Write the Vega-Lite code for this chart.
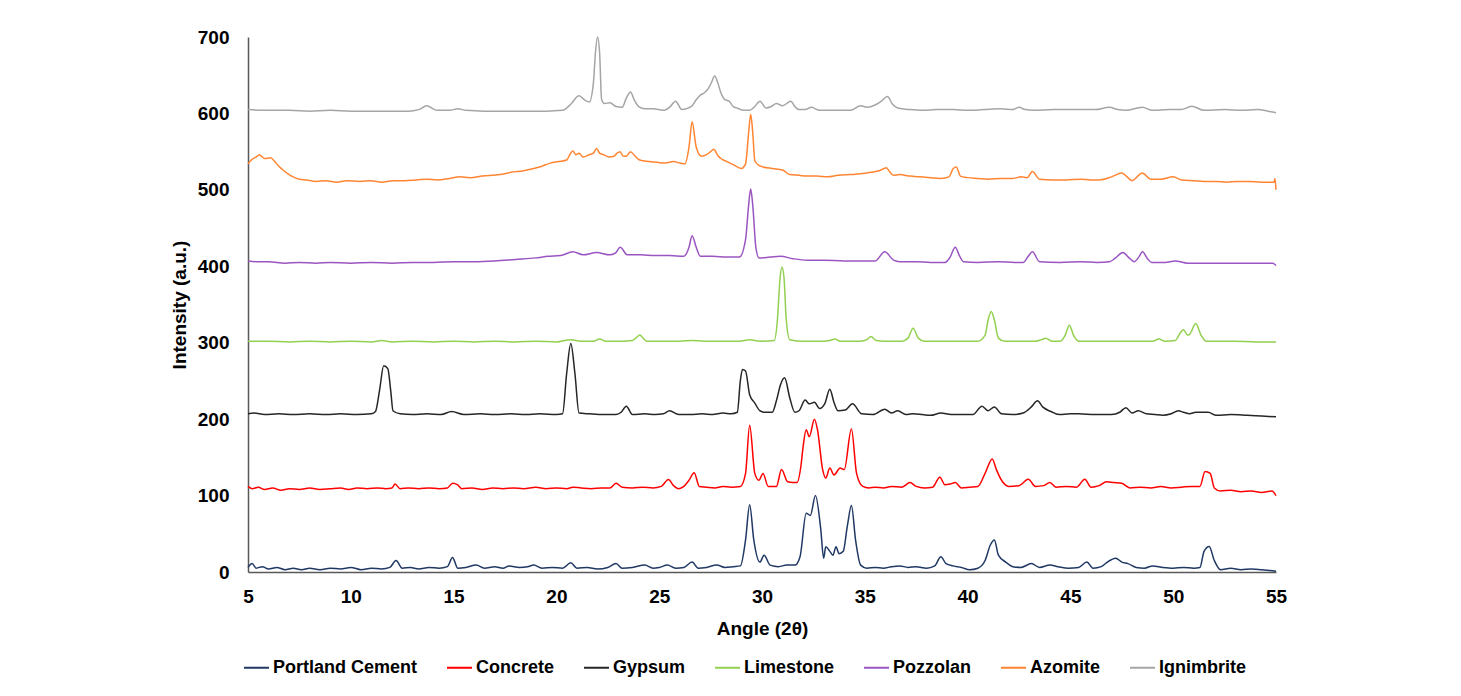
{
  "$schema": "https://vega.github.io/schema/vega-lite/v6.json",
  "autosize": {"type": "none"},
  "width": 1028,
  "height": 535,
  "padding": {"left": 248, "top": 37, "right": 185, "bottom": 124},
  "background": "white",
  "config": {
    "view": {"stroke": null},
    "font": "Liberation Sans",
    "axis": {"labelFont": "Liberation Sans", "titleFont": "Liberation Sans", "labelFontWeight": "bold", "titleFontWeight": "bold", "labelFontSize": 19, "titleFontSize": 19, "labelColor": "#000000", "titleColor": "#000000", "grid": false, "ticks": false, "tickSize": 0, "domainColor": "#595959", "domainWidth": 1.5}
  },
  "data": {"values": [
    {"s":"Portland Cement","x":5.0,"y":6},{"s":"Portland Cement","x":5.2,"y":11},{"s":"Portland Cement","x":5.4,"y":5},{"s":"Portland Cement","x":5.7,"y":7},{"s":"Portland Cement","x":6.0,"y":4},{"s":"Portland Cement","x":6.4,"y":6},{"s":"Portland Cement","x":6.8,"y":3},{"s":"Portland Cement","x":7.2,"y":5},{"s":"Portland Cement","x":7.6,"y":3},{"s":"Portland Cement","x":8.0,"y":5},{"s":"Portland Cement","x":8.5,"y":3},{"s":"Portland Cement","x":9.0,"y":5},{"s":"Portland Cement","x":9.5,"y":4},{"s":"Portland Cement","x":10.0,"y":6},{"s":"Portland Cement","x":10.5,"y":3},{"s":"Portland Cement","x":11.0,"y":5},{"s":"Portland Cement","x":11.5,"y":4},{"s":"Portland Cement","x":11.9,"y":6},{"s":"Portland Cement","x":12.2,"y":15},{"s":"Portland Cement","x":12.5,"y":5},{"s":"Portland Cement","x":12.9,"y":6},{"s":"Portland Cement","x":13.3,"y":4},{"s":"Portland Cement","x":13.8,"y":6},{"s":"Portland Cement","x":14.3,"y":5},{"s":"Portland Cement","x":14.7,"y":7},{"s":"Portland Cement","x":14.95,"y":19},{"s":"Portland Cement","x":15.2,"y":5},{"s":"Portland Cement","x":15.6,"y":6},{"s":"Portland Cement","x":16.1,"y":9},{"s":"Portland Cement","x":16.5,"y":5},{"s":"Portland Cement","x":17.0,"y":7},{"s":"Portland Cement","x":17.4,"y":5},{"s":"Portland Cement","x":17.7,"y":8},{"s":"Portland Cement","x":18.2,"y":6},{"s":"Portland Cement","x":18.6,"y":7},{"s":"Portland Cement","x":18.9,"y":9},{"s":"Portland Cement","x":19.3,"y":5},{"s":"Portland Cement","x":19.8,"y":6},{"s":"Portland Cement","x":20.3,"y":5},{"s":"Portland Cement","x":20.7,"y":12},{"s":"Portland Cement","x":21.0,"y":5},{"s":"Portland Cement","x":21.5,"y":6},{"s":"Portland Cement","x":22.0,"y":4},{"s":"Portland Cement","x":22.5,"y":6},{"s":"Portland Cement","x":22.9,"y":11},{"s":"Portland Cement","x":23.2,"y":5},{"s":"Portland Cement","x":23.7,"y":6},{"s":"Portland Cement","x":24.3,"y":9},{"s":"Portland Cement","x":24.7,"y":5},{"s":"Portland Cement","x":25.0,"y":6},{"s":"Portland Cement","x":25.4,"y":9},{"s":"Portland Cement","x":25.8,"y":5},{"s":"Portland Cement","x":26.2,"y":6},{"s":"Portland Cement","x":26.6,"y":13},{"s":"Portland Cement","x":26.9,"y":5},{"s":"Portland Cement","x":27.3,"y":6},{"s":"Portland Cement","x":27.8,"y":9},{"s":"Portland Cement","x":28.2,"y":6},{"s":"Portland Cement","x":28.6,"y":7},{"s":"Portland Cement","x":28.95,"y":8},{"s":"Portland Cement","x":29.2,"y":42},{"s":"Portland Cement","x":29.4,"y":88},{"s":"Portland Cement","x":29.6,"y":42},{"s":"Portland Cement","x":29.9,"y":13},{"s":"Portland Cement","x":30.1,"y":22},{"s":"Portland Cement","x":30.4,"y":9},{"s":"Portland Cement","x":30.8,"y":7},{"s":"Portland Cement","x":31.2,"y":9},{"s":"Portland Cement","x":31.6,"y":9},{"s":"Portland Cement","x":31.85,"y":20},{"s":"Portland Cement","x":32.15,"y":77},{"s":"Portland Cement","x":32.35,"y":74},{"s":"Portland Cement","x":32.6,"y":100},{"s":"Portland Cement","x":32.85,"y":58},{"s":"Portland Cement","x":33.0,"y":18},{"s":"Portland Cement","x":33.1,"y":33},{"s":"Portland Cement","x":33.3,"y":27},{"s":"Portland Cement","x":33.45,"y":22},{"s":"Portland Cement","x":33.6,"y":33},{"s":"Portland Cement","x":33.75,"y":24},{"s":"Portland Cement","x":33.95,"y":27},{"s":"Portland Cement","x":34.15,"y":60},{"s":"Portland Cement","x":34.35,"y":87},{"s":"Portland Cement","x":34.55,"y":42},{"s":"Portland Cement","x":34.8,"y":9},{"s":"Portland Cement","x":35.1,"y":5},{"s":"Portland Cement","x":35.5,"y":6},{"s":"Portland Cement","x":35.9,"y":5},{"s":"Portland Cement","x":36.3,"y":7},{"s":"Portland Cement","x":36.7,"y":8},{"s":"Portland Cement","x":37.1,"y":6},{"s":"Portland Cement","x":37.5,"y":7},{"s":"Portland Cement","x":38.0,"y":5},{"s":"Portland Cement","x":38.4,"y":8},{"s":"Portland Cement","x":38.7,"y":20},{"s":"Portland Cement","x":38.95,"y":11},{"s":"Portland Cement","x":39.3,"y":8},{"s":"Portland Cement","x":39.7,"y":6},{"s":"Portland Cement","x":40.1,"y":3},{"s":"Portland Cement","x":40.5,"y":5},{"s":"Portland Cement","x":40.85,"y":15},{"s":"Portland Cement","x":41.1,"y":35},{"s":"Portland Cement","x":41.3,"y":42},{"s":"Portland Cement","x":41.5,"y":22},{"s":"Portland Cement","x":41.85,"y":13},{"s":"Portland Cement","x":42.2,"y":7},{"s":"Portland Cement","x":42.6,"y":6},{"s":"Portland Cement","x":43.1,"y":11},{"s":"Portland Cement","x":43.5,"y":6},{"s":"Portland Cement","x":44.0,"y":9},{"s":"Portland Cement","x":44.4,"y":7},{"s":"Portland Cement","x":44.9,"y":5},{"s":"Portland Cement","x":45.4,"y":6},{"s":"Portland Cement","x":45.8,"y":13},{"s":"Portland Cement","x":46.1,"y":5},{"s":"Portland Cement","x":46.5,"y":7},{"s":"Portland Cement","x":46.75,"y":12},{"s":"Portland Cement","x":47.2,"y":18},{"s":"Portland Cement","x":47.5,"y":13},{"s":"Portland Cement","x":47.8,"y":11},{"s":"Portland Cement","x":48.2,"y":6},{"s":"Portland Cement","x":48.6,"y":5},{"s":"Portland Cement","x":49.0,"y":8},{"s":"Portland Cement","x":49.5,"y":6},{"s":"Portland Cement","x":50.0,"y":5},{"s":"Portland Cement","x":50.5,"y":6},{"s":"Portland Cement","x":51.0,"y":5},{"s":"Portland Cement","x":51.3,"y":6},{"s":"Portland Cement","x":51.5,"y":27},{"s":"Portland Cement","x":51.75,"y":33.5},{"s":"Portland Cement","x":52.0,"y":15},{"s":"Portland Cement","x":52.3,"y":3},{"s":"Portland Cement","x":52.8,"y":5},{"s":"Portland Cement","x":53.3,"y":3},{"s":"Portland Cement","x":53.8,"y":4},{"s":"Portland Cement","x":54.3,"y":3},{"s":"Portland Cement","x":54.7,"y":2},{"s":"Portland Cement","x":55.0,"y":1},

    {"s":"Concrete","x":5.0,"y":112},{"s":"Concrete","x":5.2,"y":109},{"s":"Concrete","x":5.5,"y":111},{"s":"Concrete","x":5.8,"y":108},{"s":"Concrete","x":6.2,"y":110},{"s":"Concrete","x":6.6,"y":107},{"s":"Concrete","x":7.0,"y":109},{"s":"Concrete","x":7.5,"y":108},{"s":"Concrete","x":8.0,"y":110},{"s":"Concrete","x":8.5,"y":108},{"s":"Concrete","x":9.0,"y":109},{"s":"Concrete","x":9.5,"y":110},{"s":"Concrete","x":9.9,"y":108},{"s":"Concrete","x":10.3,"y":110},{"s":"Concrete","x":10.8,"y":109},{"s":"Concrete","x":11.3,"y":110},{"s":"Concrete","x":11.7,"y":109},{"s":"Concrete","x":12.0,"y":110},{"s":"Concrete","x":12.15,"y":115},{"s":"Concrete","x":12.4,"y":109},{"s":"Concrete","x":12.8,"y":110},{"s":"Concrete","x":13.3,"y":109},{"s":"Concrete","x":13.8,"y":110},{"s":"Concrete","x":14.3,"y":109},{"s":"Concrete","x":14.7,"y":110},{"s":"Concrete","x":14.95,"y":116},{"s":"Concrete","x":15.2,"y":114},{"s":"Concrete","x":15.4,"y":109},{"s":"Concrete","x":15.9,"y":110},{"s":"Concrete","x":16.4,"y":108},{"s":"Concrete","x":16.9,"y":110},{"s":"Concrete","x":17.4,"y":109},{"s":"Concrete","x":17.9,"y":110},{"s":"Concrete","x":18.4,"y":109},{"s":"Concrete","x":19.0,"y":111},{"s":"Concrete","x":19.5,"y":109},{"s":"Concrete","x":20.0,"y":110},{"s":"Concrete","x":20.5,"y":109},{"s":"Concrete","x":20.8,"y":111},{"s":"Concrete","x":21.2,"y":110},{"s":"Concrete","x":21.7,"y":109},{"s":"Concrete","x":22.2,"y":110},{"s":"Concrete","x":22.6,"y":110},{"s":"Concrete","x":22.9,"y":116},{"s":"Concrete","x":23.2,"y":111},{"s":"Concrete","x":23.7,"y":110},{"s":"Concrete","x":24.2,"y":111},{"s":"Concrete","x":24.7,"y":110},{"s":"Concrete","x":25.1,"y":112},{"s":"Concrete","x":25.45,"y":121},{"s":"Concrete","x":25.7,"y":113},{"s":"Concrete","x":25.95,"y":109},{"s":"Concrete","x":26.2,"y":112},{"s":"Concrete","x":26.45,"y":120},{"s":"Concrete","x":26.7,"y":130},{"s":"Concrete","x":26.95,"y":112},{"s":"Concrete","x":27.3,"y":111},{"s":"Concrete","x":27.7,"y":110},{"s":"Concrete","x":28.1,"y":112},{"s":"Concrete","x":28.5,"y":111},{"s":"Concrete","x":28.95,"y":112},{"s":"Concrete","x":29.2,"y":129},{"s":"Concrete","x":29.4,"y":192},{"s":"Concrete","x":29.65,"y":129},{"s":"Concrete","x":29.85,"y":120},{"s":"Concrete","x":30.05,"y":129},{"s":"Concrete","x":30.3,"y":112},{"s":"Concrete","x":30.7,"y":112},{"s":"Concrete","x":30.95,"y":134},{"s":"Concrete","x":31.25,"y":118},{"s":"Concrete","x":31.5,"y":117},{"s":"Concrete","x":31.7,"y":117},{"s":"Concrete","x":31.9,"y":140},{"s":"Concrete","x":32.0,"y":164},{"s":"Concrete","x":32.15,"y":186},{"s":"Concrete","x":32.3,"y":177},{"s":"Concrete","x":32.55,"y":200},{"s":"Concrete","x":32.7,"y":186},{"s":"Concrete","x":32.95,"y":134},{"s":"Concrete","x":33.1,"y":123},{"s":"Concrete","x":33.3,"y":136},{"s":"Concrete","x":33.5,"y":127},{"s":"Concrete","x":33.8,"y":136},{"s":"Concrete","x":34.0,"y":134},{"s":"Concrete","x":34.35,"y":187},{"s":"Concrete","x":34.6,"y":129},{"s":"Concrete","x":34.9,"y":112},{"s":"Concrete","x":35.2,"y":110},{"s":"Concrete","x":35.5,"y":111},{"s":"Concrete","x":35.9,"y":110},{"s":"Concrete","x":36.3,"y":112},{"s":"Concrete","x":36.8,"y":111},{"s":"Concrete","x":37.2,"y":117},{"s":"Concrete","x":37.5,"y":112},{"s":"Concrete","x":37.9,"y":110},{"s":"Concrete","x":38.3,"y":111},{"s":"Concrete","x":38.65,"y":124},{"s":"Concrete","x":38.9,"y":114},{"s":"Concrete","x":39.15,"y":115},{"s":"Concrete","x":39.4,"y":117},{"s":"Concrete","x":39.7,"y":110},{"s":"Concrete","x":40.1,"y":111},{"s":"Concrete","x":40.5,"y":112},{"s":"Concrete","x":40.85,"y":129},{"s":"Concrete","x":41.2,"y":148},{"s":"Concrete","x":41.4,"y":134},{"s":"Concrete","x":41.7,"y":118},{"s":"Concrete","x":42.0,"y":112},{"s":"Concrete","x":42.5,"y":113},{"s":"Concrete","x":42.95,"y":121.5},{"s":"Concrete","x":43.3,"y":112},{"s":"Concrete","x":43.7,"y":113},{"s":"Concrete","x":44.0,"y":117},{"s":"Concrete","x":44.3,"y":111},{"s":"Concrete","x":44.8,"y":112},{"s":"Concrete","x":45.3,"y":111},{"s":"Concrete","x":45.7,"y":121.5},{"s":"Concrete","x":46.0,"y":111},{"s":"Concrete","x":46.4,"y":113},{"s":"Concrete","x":46.75,"y":118},{"s":"Concrete","x":47.1,"y":117},{"s":"Concrete","x":47.5,"y":116},{"s":"Concrete","x":47.9,"y":110},{"s":"Concrete","x":48.4,"y":111},{"s":"Concrete","x":48.9,"y":110},{"s":"Concrete","x":49.4,"y":112},{"s":"Concrete","x":49.9,"y":110},{"s":"Concrete","x":50.4,"y":111},{"s":"Concrete","x":50.9,"y":112},{"s":"Concrete","x":51.3,"y":112},{"s":"Concrete","x":51.55,"y":131.5},{"s":"Concrete","x":51.8,"y":129},{"s":"Concrete","x":52.0,"y":110},{"s":"Concrete","x":52.3,"y":106},{"s":"Concrete","x":52.8,"y":107},{"s":"Concrete","x":53.3,"y":105},{"s":"Concrete","x":53.8,"y":106},{"s":"Concrete","x":54.3,"y":104},{"s":"Concrete","x":54.8,"y":106},{"s":"Concrete","x":55.0,"y":100},

    {"s":"Gypsum","x":5.0,"y":207},{"s":"Gypsum","x":5.3,"y":208},{"s":"Gypsum","x":5.8,"y":206},{"s":"Gypsum","x":6.5,"y":207},{"s":"Gypsum","x":7.2,"y":206},{"s":"Gypsum","x":8.0,"y":207},{"s":"Gypsum","x":8.8,"y":206},{"s":"Gypsum","x":9.5,"y":207},{"s":"Gypsum","x":10.3,"y":206},{"s":"Gypsum","x":11.0,"y":207},{"s":"Gypsum","x":11.2,"y":210},{"s":"Gypsum","x":11.4,"y":238},{"s":"Gypsum","x":11.6,"y":270},{"s":"Gypsum","x":11.8,"y":266},{"s":"Gypsum","x":11.95,"y":235},{"s":"Gypsum","x":12.05,"y":211},{"s":"Gypsum","x":12.4,"y":207},{"s":"Gypsum","x":13.0,"y":206},{"s":"Gypsum","x":13.7,"y":207},{"s":"Gypsum","x":14.4,"y":206},{"s":"Gypsum","x":14.9,"y":210},{"s":"Gypsum","x":15.5,"y":206},{"s":"Gypsum","x":16.3,"y":207},{"s":"Gypsum","x":17.0,"y":206},{"s":"Gypsum","x":17.8,"y":207},{"s":"Gypsum","x":18.5,"y":206},{"s":"Gypsum","x":19.2,"y":207},{"s":"Gypsum","x":20.0,"y":206},{"s":"Gypsum","x":20.3,"y":207},{"s":"Gypsum","x":20.5,"y":260},{"s":"Gypsum","x":20.7,"y":299},{"s":"Gypsum","x":20.9,"y":260},{"s":"Gypsum","x":21.1,"y":208},{"s":"Gypsum","x":21.6,"y":207},{"s":"Gypsum","x":22.3,"y":206},{"s":"Gypsum","x":22.9,"y":206},{"s":"Gypsum","x":23.15,"y":209},{"s":"Gypsum","x":23.4,"y":217},{"s":"Gypsum","x":23.7,"y":206},{"s":"Gypsum","x":24.3,"y":207},{"s":"Gypsum","x":24.8,"y":206},{"s":"Gypsum","x":25.2,"y":207},{"s":"Gypsum","x":25.5,"y":211},{"s":"Gypsum","x":25.95,"y":206},{"s":"Gypsum","x":26.5,"y":206},{"s":"Gypsum","x":27.1,"y":207},{"s":"Gypsum","x":27.6,"y":206},{"s":"Gypsum","x":28.1,"y":208},{"s":"Gypsum","x":28.5,"y":207},{"s":"Gypsum","x":28.8,"y":209},{"s":"Gypsum","x":28.95,"y":251},{"s":"Gypsum","x":29.05,"y":265},{"s":"Gypsum","x":29.2,"y":263},{"s":"Gypsum","x":29.4,"y":232},{"s":"Gypsum","x":29.65,"y":221},{"s":"Gypsum","x":29.9,"y":211},{"s":"Gypsum","x":30.15,"y":209},{"s":"Gypsum","x":30.5,"y":209},{"s":"Gypsum","x":30.7,"y":224},{"s":"Gypsum","x":30.9,"y":245},{"s":"Gypsum","x":31.1,"y":254},{"s":"Gypsum","x":31.35,"y":228},{"s":"Gypsum","x":31.6,"y":209},{"s":"Gypsum","x":31.8,"y":211},{"s":"Gypsum","x":32.1,"y":225},{"s":"Gypsum","x":32.3,"y":220},{"s":"Gypsum","x":32.55,"y":222},{"s":"Gypsum","x":32.8,"y":214},{"s":"Gypsum","x":33.05,"y":220},{"s":"Gypsum","x":33.3,"y":239},{"s":"Gypsum","x":33.5,"y":222},{"s":"Gypsum","x":33.7,"y":211},{"s":"Gypsum","x":34.05,"y":212},{"s":"Gypsum","x":34.4,"y":220},{"s":"Gypsum","x":34.85,"y":207},{"s":"Gypsum","x":35.4,"y":206},{"s":"Gypsum","x":35.97,"y":213},{"s":"Gypsum","x":36.3,"y":208},{"s":"Gypsum","x":36.6,"y":211},{"s":"Gypsum","x":37.0,"y":206},{"s":"Gypsum","x":37.3,"y":207},{"s":"Gypsum","x":37.8,"y":206},{"s":"Gypsum","x":38.2,"y":205},{"s":"Gypsum","x":38.7,"y":208},{"s":"Gypsum","x":39.2,"y":206},{"s":"Gypsum","x":39.6,"y":206},{"s":"Gypsum","x":40.25,"y":206},{"s":"Gypsum","x":40.7,"y":217},{"s":"Gypsum","x":41.0,"y":211},{"s":"Gypsum","x":41.3,"y":216},{"s":"Gypsum","x":41.65,"y":207},{"s":"Gypsum","x":42.2,"y":206},{"s":"Gypsum","x":42.7,"y":208},{"s":"Gypsum","x":43.1,"y":216},{"s":"Gypsum","x":43.4,"y":224},{"s":"Gypsum","x":43.65,"y":216},{"s":"Gypsum","x":44.05,"y":210},{"s":"Gypsum","x":44.45,"y":206},{"s":"Gypsum","x":45.0,"y":207},{"s":"Gypsum","x":45.4,"y":207},{"s":"Gypsum","x":46.2,"y":206},{"s":"Gypsum","x":47.0,"y":206},{"s":"Gypsum","x":47.4,"y":209},{"s":"Gypsum","x":47.7,"y":215},{"s":"Gypsum","x":48.0,"y":208},{"s":"Gypsum","x":48.3,"y":211},{"s":"Gypsum","x":48.7,"y":207},{"s":"Gypsum","x":49.1,"y":206},{"s":"Gypsum","x":49.5,"y":205},{"s":"Gypsum","x":49.9,"y":207},{"s":"Gypsum","x":50.25,"y":211},{"s":"Gypsum","x":50.5,"y":209},{"s":"Gypsum","x":50.8,"y":207},{"s":"Gypsum","x":51.1,"y":209},{"s":"Gypsum","x":51.3,"y":209},{"s":"Gypsum","x":51.7,"y":209},{"s":"Gypsum","x":52.1,"y":205},{"s":"Gypsum","x":52.8,"y":206},{"s":"Gypsum","x":53.6,"y":205},{"s":"Gypsum","x":54.3,"y":204},{"s":"Gypsum","x":55.0,"y":203},

    {"s":"Limestone","x":5.0,"y":302},{"s":"Limestone","x":6.0,"y":302},{"s":"Limestone","x":7.0,"y":301},{"s":"Limestone","x":8.0,"y":302},{"s":"Limestone","x":9.0,"y":301},{"s":"Limestone","x":10.0,"y":302},{"s":"Limestone","x":11.0,"y":301},{"s":"Limestone","x":11.5,"y":303},{"s":"Limestone","x":12.0,"y":301},{"s":"Limestone","x":13.0,"y":302},{"s":"Limestone","x":14.0,"y":301},{"s":"Limestone","x":15.0,"y":302},{"s":"Limestone","x":16.0,"y":301},{"s":"Limestone","x":17.0,"y":302},{"s":"Limestone","x":18.0,"y":301},{"s":"Limestone","x":19.0,"y":302},{"s":"Limestone","x":20.0,"y":301},{"s":"Limestone","x":20.7,"y":304},{"s":"Limestone","x":21.2,"y":302},{"s":"Limestone","x":21.8,"y":302},{"s":"Limestone","x":22.1,"y":305},{"s":"Limestone","x":22.4,"y":302},{"s":"Limestone","x":23.2,"y":302},{"s":"Limestone","x":23.7,"y":303},{"s":"Limestone","x":23.9,"y":307},{"s":"Limestone","x":24.05,"y":310},{"s":"Limestone","x":24.25,"y":305},{"s":"Limestone","x":24.4,"y":302},{"s":"Limestone","x":25.0,"y":302},{"s":"Limestone","x":26.0,"y":302},{"s":"Limestone","x":26.6,"y":303},{"s":"Limestone","x":27.2,"y":302},{"s":"Limestone","x":28.0,"y":302},{"s":"Limestone","x":28.9,"y":302},{"s":"Limestone","x":29.4,"y":304},{"s":"Limestone","x":29.9,"y":302},{"s":"Limestone","x":30.6,"y":303},{"s":"Limestone","x":30.75,"y":330},{"s":"Limestone","x":30.88,"y":385},{"s":"Limestone","x":30.97,"y":399},{"s":"Limestone","x":31.07,"y":385},{"s":"Limestone","x":31.18,"y":330},{"s":"Limestone","x":31.35,"y":304},{"s":"Limestone","x":32.0,"y":302},{"s":"Limestone","x":33.0,"y":302},{"s":"Limestone","x":33.3,"y":303},{"s":"Limestone","x":33.55,"y":305},{"s":"Limestone","x":33.8,"y":302},{"s":"Limestone","x":34.8,"y":302},{"s":"Limestone","x":35.1,"y":304},{"s":"Limestone","x":35.3,"y":308},{"s":"Limestone","x":35.55,"y":303},{"s":"Limestone","x":36.0,"y":302},{"s":"Limestone","x":36.8,"y":302},{"s":"Limestone","x":37.1,"y":306},{"s":"Limestone","x":37.35,"y":319},{"s":"Limestone","x":37.6,"y":306},{"s":"Limestone","x":37.9,"y":302},{"s":"Limestone","x":38.5,"y":302},{"s":"Limestone","x":39.5,"y":302},{"s":"Limestone","x":40.5,"y":302},{"s":"Limestone","x":40.85,"y":310},{"s":"Limestone","x":41.0,"y":330},{"s":"Limestone","x":41.15,"y":341},{"s":"Limestone","x":41.3,"y":330},{"s":"Limestone","x":41.5,"y":306},{"s":"Limestone","x":41.8,"y":302},{"s":"Limestone","x":42.5,"y":302},{"s":"Limestone","x":43.3,"y":302},{"s":"Limestone","x":43.6,"y":304},{"s":"Limestone","x":43.8,"y":306},{"s":"Limestone","x":44.1,"y":302},{"s":"Limestone","x":44.5,"y":302},{"s":"Limestone","x":44.75,"y":310},{"s":"Limestone","x":44.95,"y":323},{"s":"Limestone","x":45.15,"y":310},{"s":"Limestone","x":45.4,"y":302},{"s":"Limestone","x":46.0,"y":302},{"s":"Limestone","x":47.0,"y":302},{"s":"Limestone","x":48.0,"y":302},{"s":"Limestone","x":49.0,"y":302},{"s":"Limestone","x":49.3,"y":305},{"s":"Limestone","x":49.6,"y":302},{"s":"Limestone","x":50.1,"y":303},{"s":"Limestone","x":50.35,"y":313},{"s":"Limestone","x":50.5,"y":317},{"s":"Limestone","x":50.7,"y":310},{"s":"Limestone","x":50.8,"y":311},{"s":"Limestone","x":51.1,"y":325},{"s":"Limestone","x":51.35,"y":310},{"s":"Limestone","x":51.6,"y":302},{"s":"Limestone","x":52.0,"y":302},{"s":"Limestone","x":53.0,"y":302},{"s":"Limestone","x":54.0,"y":301},{"s":"Limestone","x":55.0,"y":301},

    {"s":"Pozzolan","x":5.0,"y":407},{"s":"Pozzolan","x":5.5,"y":406},{"s":"Pozzolan","x":6.0,"y":406},{"s":"Pozzolan","x":6.8,"y":404},{"s":"Pozzolan","x":7.5,"y":405},{"s":"Pozzolan","x":8.3,"y":404},{"s":"Pozzolan","x":9.0,"y":405},{"s":"Pozzolan","x":10.0,"y":404},{"s":"Pozzolan","x":11.0,"y":405},{"s":"Pozzolan","x":12.0,"y":404},{"s":"Pozzolan","x":13.0,"y":405},{"s":"Pozzolan","x":14.0,"y":405},{"s":"Pozzolan","x":15.0,"y":406},{"s":"Pozzolan","x":16.0,"y":406},{"s":"Pozzolan","x":17.0,"y":407},{"s":"Pozzolan","x":18.0,"y":409},{"s":"Pozzolan","x":19.0,"y":411},{"s":"Pozzolan","x":19.6,"y":413},{"s":"Pozzolan","x":20.2,"y":414},{"s":"Pozzolan","x":20.8,"y":419},{"s":"Pozzolan","x":21.3,"y":415},{"s":"Pozzolan","x":21.95,"y":418},{"s":"Pozzolan","x":22.6,"y":415},{"s":"Pozzolan","x":22.9,"y":418},{"s":"Pozzolan","x":23.1,"y":425},{"s":"Pozzolan","x":23.45,"y":415},{"s":"Pozzolan","x":24.1,"y":415},{"s":"Pozzolan","x":24.8,"y":414},{"s":"Pozzolan","x":25.5,"y":414},{"s":"Pozzolan","x":26.2,"y":413},{"s":"Pozzolan","x":26.45,"y":425},{"s":"Pozzolan","x":26.6,"y":440},{"s":"Pozzolan","x":26.8,"y":425},{"s":"Pozzolan","x":27.0,"y":413},{"s":"Pozzolan","x":27.6,"y":413},{"s":"Pozzolan","x":28.3,"y":412},{"s":"Pozzolan","x":28.9,"y":412},{"s":"Pozzolan","x":29.2,"y":435},{"s":"Pozzolan","x":29.35,"y":480},{"s":"Pozzolan","x":29.45,"y":501},{"s":"Pozzolan","x":29.55,"y":480},{"s":"Pozzolan","x":29.7,"y":425},{"s":"Pozzolan","x":29.85,"y":411},{"s":"Pozzolan","x":30.4,"y":412},{"s":"Pozzolan","x":30.9,"y":413},{"s":"Pozzolan","x":31.5,"y":410},{"s":"Pozzolan","x":32.2,"y":408},{"s":"Pozzolan","x":33.0,"y":408},{"s":"Pozzolan","x":34.0,"y":407},{"s":"Pozzolan","x":35.0,"y":407},{"s":"Pozzolan","x":35.5,"y":407},{"s":"Pozzolan","x":35.97,"y":419},{"s":"Pozzolan","x":36.4,"y":408},{"s":"Pozzolan","x":36.7,"y":406},{"s":"Pozzolan","x":37.5,"y":406},{"s":"Pozzolan","x":38.2,"y":405},{"s":"Pozzolan","x":38.9,"y":405},{"s":"Pozzolan","x":39.15,"y":412},{"s":"Pozzolan","x":39.4,"y":425},{"s":"Pozzolan","x":39.6,"y":414},{"s":"Pozzolan","x":39.8,"y":406},{"s":"Pozzolan","x":40.5,"y":405},{"s":"Pozzolan","x":41.5,"y":406},{"s":"Pozzolan","x":42.3,"y":405},{"s":"Pozzolan","x":42.7,"y":405},{"s":"Pozzolan","x":42.95,"y":413},{"s":"Pozzolan","x":43.15,"y":419},{"s":"Pozzolan","x":43.5,"y":406},{"s":"Pozzolan","x":44.5,"y":405},{"s":"Pozzolan","x":45.5,"y":406},{"s":"Pozzolan","x":46.3,"y":405},{"s":"Pozzolan","x":46.9,"y":406},{"s":"Pozzolan","x":47.2,"y":411},{"s":"Pozzolan","x":47.55,"y":418},{"s":"Pozzolan","x":47.85,"y":411},{"s":"Pozzolan","x":48.1,"y":406},{"s":"Pozzolan","x":48.35,"y":413},{"s":"Pozzolan","x":48.5,"y":419},{"s":"Pozzolan","x":48.75,"y":410},{"s":"Pozzolan","x":48.95,"y":405},{"s":"Pozzolan","x":49.6,"y":405},{"s":"Pozzolan","x":50.1,"y":407},{"s":"Pozzolan","x":50.7,"y":404},{"s":"Pozzolan","x":51.5,"y":404},{"s":"Pozzolan","x":52.5,"y":404},{"s":"Pozzolan","x":53.5,"y":404},{"s":"Pozzolan","x":54.5,"y":404},{"s":"Pozzolan","x":54.85,"y":404},{"s":"Pozzolan","x":55.0,"y":401},

    {"s":"Azomite","x":5.0,"y":534},{"s":"Azomite","x":5.2,"y":540},{"s":"Azomite","x":5.4,"y":543},{"s":"Azomite","x":5.55,"y":546},{"s":"Azomite","x":5.8,"y":541},{"s":"Azomite","x":6.1,"y":542},{"s":"Azomite","x":6.3,"y":537},{"s":"Azomite","x":6.5,"y":531},{"s":"Azomite","x":6.7,"y":526},{"s":"Azomite","x":7.0,"y":520},{"s":"Azomite","x":7.2,"y":517},{"s":"Azomite","x":7.5,"y":514},{"s":"Azomite","x":7.85,"y":513},{"s":"Azomite","x":8.3,"y":511},{"s":"Azomite","x":8.8,"y":512},{"s":"Azomite","x":9.3,"y":510},{"s":"Azomite","x":9.8,"y":512},{"s":"Azomite","x":10.45,"y":511},{"s":"Azomite","x":11.0,"y":512},{"s":"Azomite","x":11.5,"y":510},{"s":"Azomite","x":12.05,"y":512},{"s":"Azomite","x":12.6,"y":512},{"s":"Azomite","x":13.2,"y":513},{"s":"Azomite","x":13.7,"y":514},{"s":"Azomite","x":14.2,"y":513},{"s":"Azomite","x":14.8,"y":515},{"s":"Azomite","x":15.3,"y":517},{"s":"Azomite","x":15.8,"y":516},{"s":"Azomite","x":16.4,"y":518},{"s":"Azomite","x":17.25,"y":520},{"s":"Azomite","x":17.8,"y":523},{"s":"Azomite","x":18.4,"y":525},{"s":"Azomite","x":18.9,"y":528},{"s":"Azomite","x":19.3,"y":531},{"s":"Azomite","x":19.7,"y":535},{"s":"Azomite","x":20.1,"y":537},{"s":"Azomite","x":20.5,"y":539},{"s":"Azomite","x":20.65,"y":546},{"s":"Azomite","x":20.8,"y":551},{"s":"Azomite","x":20.95,"y":546},{"s":"Azomite","x":21.1,"y":548},{"s":"Azomite","x":21.3,"y":543},{"s":"Azomite","x":21.6,"y":546},{"s":"Azomite","x":21.8,"y":548},{"s":"Azomite","x":21.95,"y":554},{"s":"Azomite","x":22.1,"y":548},{"s":"Azomite","x":22.3,"y":546},{"s":"Azomite","x":22.55,"y":543},{"s":"Azomite","x":22.8,"y":544},{"s":"Azomite","x":22.95,"y":548},{"s":"Azomite","x":23.1,"y":550},{"s":"Azomite","x":23.25,"y":544},{"s":"Azomite","x":23.4,"y":544},{"s":"Azomite","x":23.6,"y":550},{"s":"Azomite","x":23.8,"y":545},{"s":"Azomite","x":24.05,"y":539},{"s":"Azomite","x":24.5,"y":537},{"s":"Azomite","x":24.9,"y":536},{"s":"Azomite","x":25.3,"y":535},{"s":"Azomite","x":25.7,"y":537},{"s":"Azomite","x":26.0,"y":535},{"s":"Azomite","x":26.25,"y":534},{"s":"Azomite","x":26.45,"y":556},{"s":"Azomite","x":26.6,"y":589},{"s":"Azomite","x":26.8,"y":556},{"s":"Azomite","x":27.05,"y":544},{"s":"Azomite","x":27.3,"y":546},{"s":"Azomite","x":27.5,"y":550},{"s":"Azomite","x":27.65,"y":553},{"s":"Azomite","x":27.85,"y":545},{"s":"Azomite","x":28.0,"y":541},{"s":"Azomite","x":28.3,"y":537},{"s":"Azomite","x":28.6,"y":533},{"s":"Azomite","x":29.0,"y":528},{"s":"Azomite","x":29.2,"y":534},{"s":"Azomite","x":29.35,"y":575},{"s":"Azomite","x":29.45,"y":599},{"s":"Azomite","x":29.55,"y":575},{"s":"Azomite","x":29.65,"y":538},{"s":"Azomite","x":29.85,"y":532},{"s":"Azomite","x":30.05,"y":530},{"s":"Azomite","x":30.5,"y":528},{"s":"Azomite","x":31.0,"y":526},{"s":"Azomite","x":31.35,"y":520},{"s":"Azomite","x":31.8,"y":519},{"s":"Azomite","x":32.2,"y":518},{"s":"Azomite","x":32.65,"y":518},{"s":"Azomite","x":33.2,"y":517},{"s":"Azomite","x":33.7,"y":519},{"s":"Azomite","x":34.3,"y":520},{"s":"Azomite","x":34.8,"y":521},{"s":"Azomite","x":35.3,"y":523},{"s":"Azomite","x":35.7,"y":525},{"s":"Azomite","x":36.05,"y":529},{"s":"Azomite","x":36.2,"y":524},{"s":"Azomite","x":36.4,"y":519},{"s":"Azomite","x":36.7,"y":520},{"s":"Azomite","x":37.2,"y":518},{"s":"Azomite","x":37.7,"y":517},{"s":"Azomite","x":38.2,"y":516},{"s":"Azomite","x":38.7,"y":515},{"s":"Azomite","x":39.1,"y":517},{"s":"Azomite","x":39.3,"y":528},{"s":"Azomite","x":39.45,"y":530},{"s":"Azomite","x":39.65,"y":518},{"s":"Azomite","x":40.0,"y":516},{"s":"Azomite","x":40.5,"y":515},{"s":"Azomite","x":41.0,"y":514},{"s":"Azomite","x":41.6,"y":515},{"s":"Azomite","x":42.2,"y":515},{"s":"Azomite","x":42.6,"y":517},{"s":"Azomite","x":42.9,"y":516},{"s":"Azomite","x":43.15,"y":524},{"s":"Azomite","x":43.5,"y":514},{"s":"Azomite","x":44.2,"y":513},{"s":"Azomite","x":44.8,"y":513},{"s":"Azomite","x":45.5,"y":514},{"s":"Azomite","x":46.0,"y":513},{"s":"Azomite","x":46.4,"y":513},{"s":"Azomite","x":47.0,"y":517},{"s":"Azomite","x":47.5,"y":522},{"s":"Azomite","x":47.8,"y":516},{"s":"Azomite","x":48.0,"y":512},{"s":"Azomite","x":48.5,"y":522},{"s":"Azomite","x":48.9,"y":514},{"s":"Azomite","x":49.4,"y":514},{"s":"Azomite","x":50.0,"y":517},{"s":"Azomite","x":50.4,"y":513},{"s":"Azomite","x":51.0,"y":512},{"s":"Azomite","x":51.5,"y":511},{"s":"Azomite","x":52.1,"y":511},{"s":"Azomite","x":52.6,"y":510},{"s":"Azomite","x":53.1,"y":511},{"s":"Azomite","x":53.7,"y":511},{"s":"Azomite","x":54.3,"y":510},{"s":"Azomite","x":54.9,"y":510},{"s":"Azomite","x":54.95,"y":515},{"s":"Azomite","x":55.0,"y":500},

    {"s":"Ignimbrite","x":5.0,"y":605},{"s":"Ignimbrite","x":6.0,"y":604},{"s":"Ignimbrite","x":7.0,"y":604},{"s":"Ignimbrite","x":8.0,"y":603},{"s":"Ignimbrite","x":9.0,"y":604},{"s":"Ignimbrite","x":10.0,"y":603},{"s":"Ignimbrite","x":11.0,"y":603},{"s":"Ignimbrite","x":12.0,"y":603},{"s":"Ignimbrite","x":12.8,"y":603},{"s":"Ignimbrite","x":13.3,"y":605},{"s":"Ignimbrite","x":13.7,"y":610},{"s":"Ignimbrite","x":14.0,"y":606},{"s":"Ignimbrite","x":14.2,"y":604},{"s":"Ignimbrite","x":14.8,"y":604},{"s":"Ignimbrite","x":15.2,"y":606},{"s":"Ignimbrite","x":15.6,"y":604},{"s":"Ignimbrite","x":16.5,"y":603},{"s":"Ignimbrite","x":17.5,"y":603},{"s":"Ignimbrite","x":18.5,"y":603},{"s":"Ignimbrite","x":19.5,"y":603},{"s":"Ignimbrite","x":20.3,"y":604},{"s":"Ignimbrite","x":20.7,"y":612},{"s":"Ignimbrite","x":21.1,"y":623},{"s":"Ignimbrite","x":21.4,"y":617},{"s":"Ignimbrite","x":21.6,"y":615},{"s":"Ignimbrite","x":21.8,"y":640},{"s":"Ignimbrite","x":21.9,"y":680},{"s":"Ignimbrite","x":22.0,"y":700},{"s":"Ignimbrite","x":22.1,"y":680},{"s":"Ignimbrite","x":22.2,"y":618},{"s":"Ignimbrite","x":22.35,"y":613},{"s":"Ignimbrite","x":22.6,"y":614},{"s":"Ignimbrite","x":22.9,"y":609},{"s":"Ignimbrite","x":23.2,"y":608},{"s":"Ignimbrite","x":23.4,"y":620},{"s":"Ignimbrite","x":23.6,"y":628},{"s":"Ignimbrite","x":23.8,"y":617},{"s":"Ignimbrite","x":24.0,"y":609},{"s":"Ignimbrite","x":24.3,"y":606},{"s":"Ignimbrite","x":24.7,"y":606},{"s":"Ignimbrite","x":25.2,"y":604},{"s":"Ignimbrite","x":25.5,"y":608},{"s":"Ignimbrite","x":25.8,"y":616},{"s":"Ignimbrite","x":26.1,"y":605},{"s":"Ignimbrite","x":26.4,"y":607},{"s":"Ignimbrite","x":26.6,"y":610},{"s":"Ignimbrite","x":26.8,"y":618},{"s":"Ignimbrite","x":27.0,"y":624},{"s":"Ignimbrite","x":27.2,"y":627},{"s":"Ignimbrite","x":27.4,"y":633},{"s":"Ignimbrite","x":27.55,"y":641},{"s":"Ignimbrite","x":27.7,"y":649},{"s":"Ignimbrite","x":27.85,"y":640},{"s":"Ignimbrite","x":28.0,"y":627},{"s":"Ignimbrite","x":28.2,"y":618},{"s":"Ignimbrite","x":28.4,"y":616},{"s":"Ignimbrite","x":28.6,"y":609},{"s":"Ignimbrite","x":28.8,"y":607},{"s":"Ignimbrite","x":29.1,"y":604},{"s":"Ignimbrite","x":29.4,"y":604},{"s":"Ignimbrite","x":29.65,"y":609},{"s":"Ignimbrite","x":29.9,"y":616},{"s":"Ignimbrite","x":30.2,"y":607},{"s":"Ignimbrite","x":30.45,"y":609},{"s":"Ignimbrite","x":30.7,"y":613},{"s":"Ignimbrite","x":31.0,"y":610},{"s":"Ignimbrite","x":31.4,"y":616},{"s":"Ignimbrite","x":31.6,"y":609},{"s":"Ignimbrite","x":31.8,"y":605},{"s":"Ignimbrite","x":32.1,"y":605},{"s":"Ignimbrite","x":32.4,"y":608},{"s":"Ignimbrite","x":32.8,"y":604},{"s":"Ignimbrite","x":33.5,"y":604},{"s":"Ignimbrite","x":34.3,"y":604},{"s":"Ignimbrite","x":34.8,"y":610},{"s":"Ignimbrite","x":35.1,"y":608},{"s":"Ignimbrite","x":35.5,"y":611},{"s":"Ignimbrite","x":35.8,"y":616},{"s":"Ignimbrite","x":36.1,"y":622},{"s":"Ignimbrite","x":36.35,"y":612},{"s":"Ignimbrite","x":36.6,"y":607},{"s":"Ignimbrite","x":37.2,"y":605},{"s":"Ignimbrite","x":37.8,"y":604},{"s":"Ignimbrite","x":38.5,"y":605},{"s":"Ignimbrite","x":39.3,"y":605},{"s":"Ignimbrite","x":40.0,"y":604},{"s":"Ignimbrite","x":40.8,"y":605},{"s":"Ignimbrite","x":41.6,"y":606},{"s":"Ignimbrite","x":42.2,"y":605},{"s":"Ignimbrite","x":42.5,"y":608},{"s":"Ignimbrite","x":42.8,"y":605},{"s":"Ignimbrite","x":43.2,"y":604},{"s":"Ignimbrite","x":44.2,"y":605},{"s":"Ignimbrite","x":45.3,"y":605},{"s":"Ignimbrite","x":46.2,"y":605},{"s":"Ignimbrite","x":46.9,"y":608},{"s":"Ignimbrite","x":47.3,"y":605},{"s":"Ignimbrite","x":47.7,"y":604},{"s":"Ignimbrite","x":48.5,"y":608},{"s":"Ignimbrite","x":49.0,"y":604},{"s":"Ignimbrite","x":49.8,"y":605},{"s":"Ignimbrite","x":50.4,"y":605},{"s":"Ignimbrite","x":50.9,"y":609.5},{"s":"Ignimbrite","x":51.5,"y":604},{"s":"Ignimbrite","x":52.5,"y":605},{"s":"Ignimbrite","x":53.3,"y":604},{"s":"Ignimbrite","x":54.1,"y":605},{"s":"Ignimbrite","x":54.6,"y":603},{"s":"Ignimbrite","x":55.0,"y":601}
  ]},
  "mark": {"type": "line", "strokeWidth": 1.5, "interpolate": "monotone"},
  "encoding": {
    "x": {"field": "x", "type": "quantitative", "scale": {"domain": [5, 55], "nice": false, "zero": false}, "axis": {"title": "Angle (2θ)", "values": [5, 10, 15, 20, 25, 30, 35, 40, 45, 50, 55], "labelPadding": 15, "titlePadding": 13, "labelFlush": false}},
    "y": {"field": "y", "type": "quantitative", "scale": {"domain": [0, 700], "nice": false}, "axis": {"title": "Intensity (a.u.)", "values": [0, 100, 200, 300, 400, 500, 600, 700], "labelPadding": 19, "titlePadding": 8}},
    "color": {"field": "s", "type": "nominal", "scale": {"domain": ["Portland Cement", "Concrete", "Gypsum", "Limestone", "Pozzolan", "Azomite", "Ignimbrite"], "range": ["#203864", "#FF0000", "#262626", "#92D050", "#9A55C2", "#FF8533", "#A5A5A5"]}, "legend": {"title": null, "orient": "none", "legendX": -5, "legendY": 617, "direction": "horizontal", "columns": 7, "symbolType": "stroke", "symbolSize": 625, "symbolStrokeWidth": 2, "labelFont": "Liberation Sans", "labelFontWeight": "bold", "labelFontSize": 18, "labelColor": "#000000", "columnPadding": 25, "labelOffset": 3, "labelLimit": 300}}
  }
}
